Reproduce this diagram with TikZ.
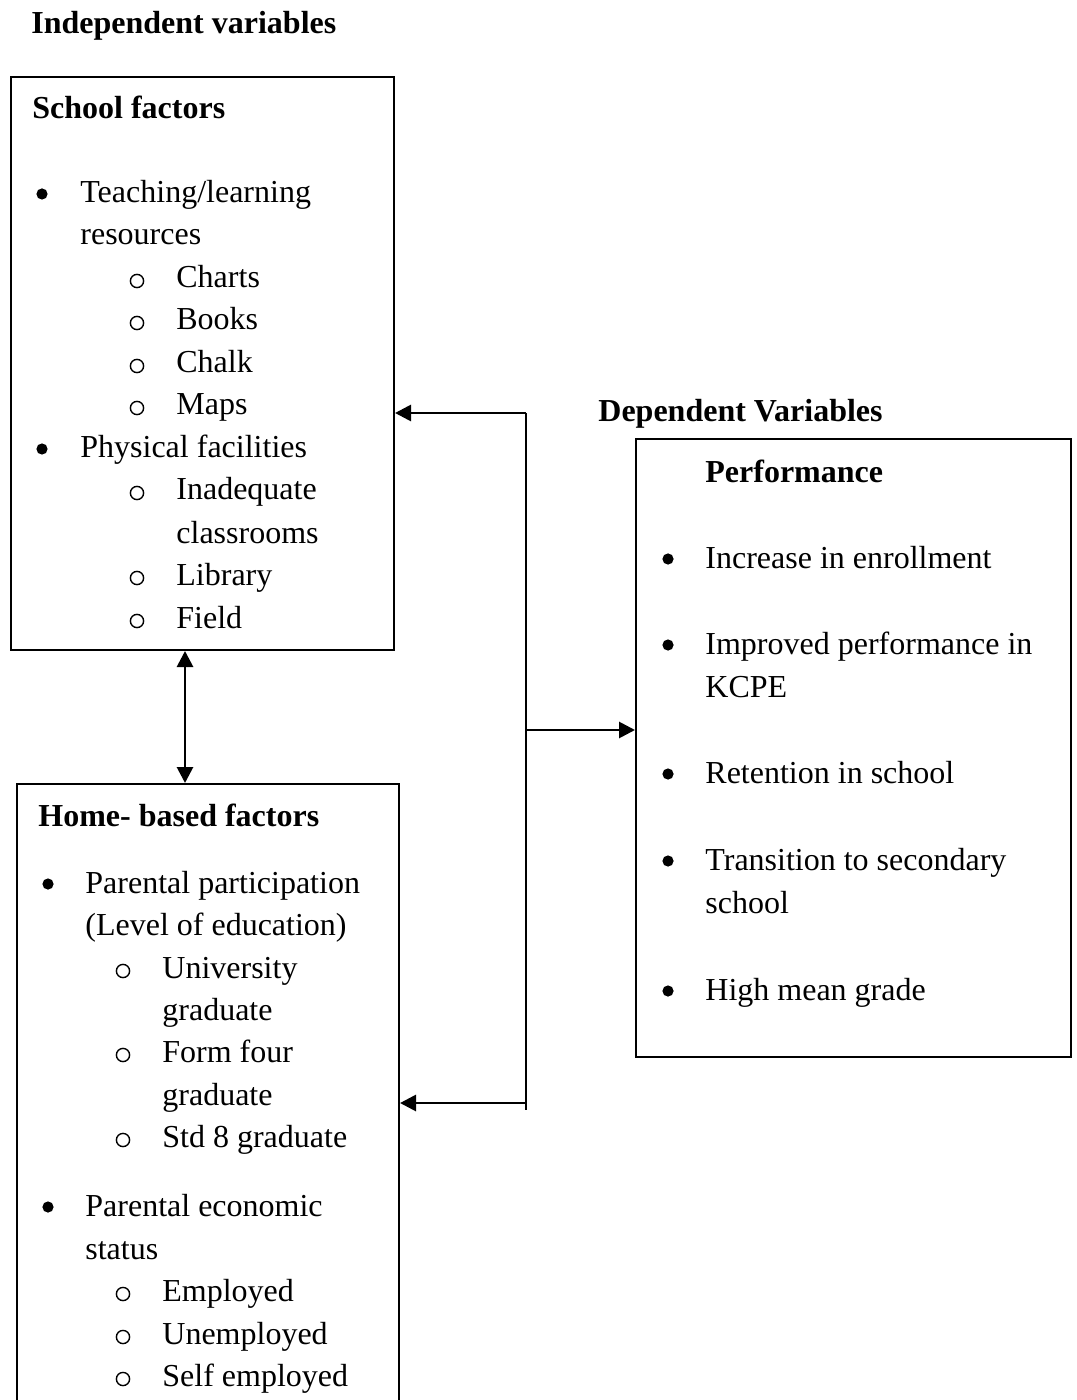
\documentclass[tikz,border=0pt]{standalone}
\usepackage{fontspec}
\setmainfont{Liberation Serif}
\usetikzlibrary{arrows.meta,fit}

\tikzset{
  txt/.style={anchor=base west, inner sep=0pt, font=\fontsize{16}{20}\selectfont},
  hd/.style={txt, font=\fontsize{16}{20}\selectfont\bfseries},
  dotmark/.style={circle, fill, inner sep=0pt, minimum size=5.6pt},
  ringmark/.style={circle, draw, line width=0.7pt, inner sep=0pt, minimum size=6.6pt},
  frame/.style={draw, line width=1pt, inner sep=0pt},
  link/.style={line width=1pt},
  arr/.style={line width=1.4pt, -{Triangle[length=8pt,width=8pt]}},
  arrboth/.style={line width=1.4pt, {Triangle[length=8pt,width=8pt]}-{Triangle[length=8pt,width=8pt]}},
}

\begin{document}
\begin{tikzpicture}[x=0.5pt,y=-0.5pt]
\useasboundingbox (0,0) rectangle (1076,1400);
\clip (0,0) rectangle (1076,1400);
%
% boxes
\node (school) [frame, fit={(11,77) (394,650)}] {};
\node (home)   [frame, fit={(17,784) (399,1420)}] {};
\node (perf)   [frame, fit={(636,439) (1071,1057)}] {};
%
% headings
\node (indep) at (31,34)  [hd] {Independent variables};
\node (dep)   at (598,422) [hd] {Dependent Variables};
\node (schoolhd) at (32,119) [hd] {School factors};
\node (homehd)   at (38,826) [hd] {Home- based factors};
\node (perfhd)   at (705,483) [hd] {Performance};
%
% school factors
\foreach \y [count=\i] in {203,458}
  \node (sd\i) at (42,{\y-9}) [dotmark] {};
\foreach \y/\t [count=\i] in {203/{Teaching/learning}, 245/resources, 458/Physical facilities}
  \node (st\i) at (80,\y) [txt] {\t};
\foreach \y [count=\i] in {288,330,373,415,500,585,628}
  \node (sr\i) at (137,{\y-7}) [ringmark] {};
\foreach \y/\t [count=\i] in {288/Charts, 330/Books, 373/Chalk, 415/Maps,
    500/Inadequate, 543/classrooms, 585/Library, 628/Field}
  \node (ss\i) at (176,\y) [txt] {\t};
%
% home-based factors
\foreach \y [count=\i] in {893,1216}
  \node (hd\i) at (48,{\y-9}) [dotmark] {};
\foreach \y/\t [count=\i] in {893/Parental participation, 935/(Level of education),
    1216/Parental economic, 1259/status}
  \node (ht\i) at (85,\y) [txt] {\t};
\foreach \y [count=\i] in {978,1062,1147,1301,1344,1386}
  \node (hr\i) at (123,{\y-7}) [ringmark] {};
\foreach \y/\t [count=\i] in {978/University, 1020/graduate, 1062/Form four, 1105/graduate,
    1147/Std 8 graduate, 1301/Employed, 1344/Unemployed, 1386/Self employed}
  \node (hs\i) at (162,\y) [txt] {\t};
%
% performance
\foreach \y [count=\i] in {568,654,783,870,1000}
  \node (pd\i) at (668,{\y-9}) [dotmark] {};
\foreach \y/\t [count=\i] in {568/Increase in enrollment, 654/Improved performance in, 697/KCPE,
    783/Retention in school, 870/Transition to secondary, 913/school, 1000/High mean grade}
  \node (pt\i) at (705,\y) [txt] {\t};
%
% connectors
\coordinate (jtop) at (526,413);
\coordinate (jmid) at (526,730);
\coordinate (jlow) at (526,1103);
\coordinate (jend) at (526,1110);
\draw [link] (jtop) -- (jend);
\draw [arr] (jtop) -- (jtop -| school.east);
\draw [arr] (jmid) -- (jmid -| perf.west);
\draw [arr] (jlow) -- (jlow -| home.east);
%
\coordinate (sh) at (185,650);
\draw [arrboth] (sh |- school.south) -- (sh |- home.north);
\end{tikzpicture}
\end{document}
